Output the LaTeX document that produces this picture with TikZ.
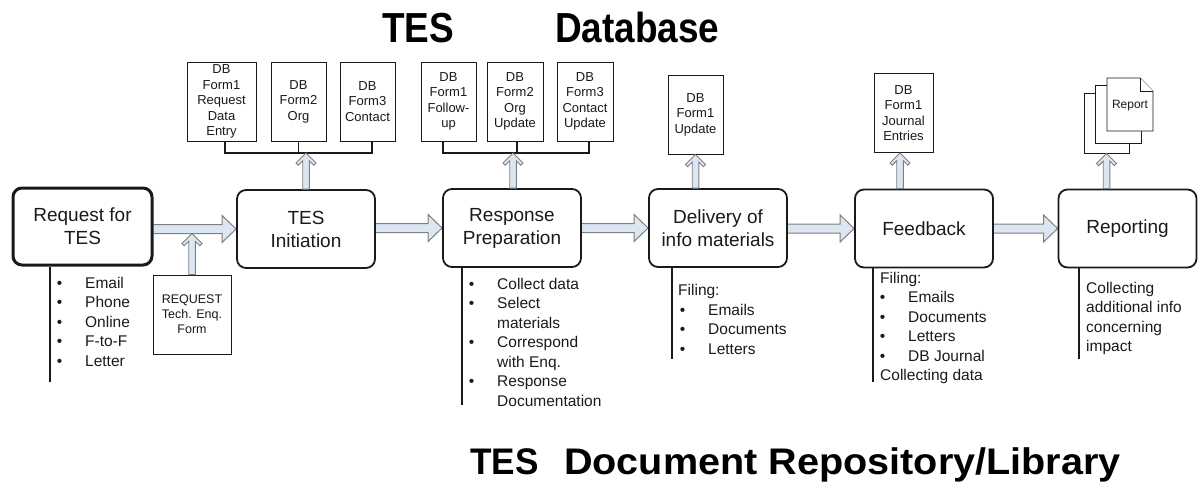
\documentclass[tikz,border=0pt]{standalone}
\usepackage{fontspec}
\usepackage{graphicx}
\setmainfont{Liberation Sans}
\usetikzlibrary{calc,backgrounds}
\definecolor{afill}{HTML}{DCE6F2}
\definecolor{aline}{HTML}{7F7F7F}
\definecolor{ink}{HTML}{1A1A1A}
\newcommand\bul{\makebox[0pt][r]{\textbullet\hspace{23pt}}}
\newcommand\rarr[2]{\draw[barrow] ($(#1.east|-#2.west)+(0,-4.5)$) -- ($(#2.west)+(-14,-4.5)$) -- ($(#2.west)+(-14,-13.5)$) -- (#2.west) -- ($(#2.west)+(-14,13.5)$) -- ($(#2.west)+(-14,4.5)$) -- ($(#1.east|-#2.west)+(0,4.5)$);}
\newcommand\uparr[2]{\draw[varrow] (#2) -- ($(#2)+(10,10)$) -- ($(#2)+(7.8,12.2)$) -- ($(#2)+(3.3,7.7)$) -- ($(#1)+(3.3,0)$) -- ($(#1)+(-3.3,0)$) -- ($(#2)+(-3.3,7.7)$) -- ($(#2)+(-7.8,12.2)$) -- ($(#2)+(-10,10)$) -- cycle;}
\tikzset{
 stage/.style={draw=ink, fill=white, line width=1.8pt, rounded corners=9pt, minimum width=138pt, minimum height=78pt, align=center, font=\fontsize{19}{23}\selectfont, text=ink, inner sep=0pt},
 form/.style={draw=ink, fill=white, line width=0.9pt, minimum height=79pt, align=center, font=\fontsize{13}{15.5}\selectfont, inner sep=0pt, text=ink},
 page/.style={draw=ink, fill=white, line width=0.9pt, inner sep=0pt},
 lst/.style={anchor=base west, inner sep=0pt, font=\fontsize{15.5}{19.5}\selectfont, text=ink},
 sideline/.style={draw=ink, line width=1.8pt},
 bracket/.style={draw=ink, line width=1.2pt},
 barrow/.style={draw=aline, line width=1pt, fill=afill, line join=miter},
 varrow/.style={draw=aline, line width=0.9pt, fill=afill, line join=miter},
 ttl/.style={anchor=base west, inner sep=0pt, text=black},
}
\begin{document}
\begin{tikzpicture}[x=1pt,y=-1pt]
\useasboundingbox (0,0) rectangle (1198,484);
% titles
\node[ttl] (tA) at (382,43) {\scalebox{0.88}[1]{\fontsize{42}{42}\selectfont\bfseries TES}};
\node[ttl] (tB) at (555,43) {\scalebox{0.88}[1]{\fontsize{42}{42}\selectfont\bfseries Database}};
\node[ttl] (tC) at (470,474) {\scalebox{0.95}[1]{\fontsize{37}{37}\selectfont\bfseries TES}};
\node[ttl] (tD) at (564,474) {\scalebox{1.07}[1]{\fontsize{37}{37}\selectfont\bfseries Document Repository/Library}};
% stages
\node[stage, line width=3pt, minimum width=139pt, minimum height=77pt] (r1) at (82.5,226.5) {Request for\\TES};
\node[stage] (r2) at (306,229) {TES\\Initiation};
\node[stage] (r3) at (512,228) {Response\\Preparation};
\node[stage] (r4) at (718,228) {Delivery of\\info materials};
\node[stage] (r5) at (924,228.5) {Feedback};
\node[stage] (r6) at (1127.5,228.5) {Reporting};
\begin{scope}[on background layer]
\rarr{r1}{r2}
\rarr{r2}{r3}
\rarr{r3}{r4}
\rarr{r4}{r5}
\rarr{r5}{r6}
\end{scope}
% forms
\node[form, minimum width=69pt] (f11) at (221.5,101.5) {DB\\Form1\\Request\\Data\\Entry};
\node[form, minimum width=55pt] (f12) at (298.5,101.5) {DB\\Form2\\Org};
\node[form, minimum width=55pt] (f13) at (367.5,101.5) {DB\\Form3\\Contact};
\node[form, minimum width=55pt] (f21) at (448.5,101.5) {DB\\Form1\\Follow-\\up};
\node[form, minimum width=56pt] (f22) at (515,101.5) {DB\\Form2\\Org\\Update};
\node[form, minimum width=56pt] (f23) at (585,101.5) {DB\\Form3\\Contact\\Update};
\node[form, minimum width=55pt] (d1) at (695.5,114.5) {DB\\Form1\\Update};
\node[form, minimum width=59pt] (j1) at (903.5,113) {DB\\Form1\\Journal\\Entries};
\node[form, minimum width=78pt, font=\fontsize{12.5}{15}\selectfont] (rq) at (192,314.5) {REQUEST\\Tech. Enq.\\Form};
% report stack
\node[page, minimum width=45pt, minimum height=60pt] (pb) at (1106.5,123) {};
\node[page, minimum width=46pt, minimum height=58pt] (pm) at (1118,114) {};
\draw[page] (1107,78) -- (1140,78) -- (1153,91) -- (1153,131) -- (1107,131) -- cycle;
\draw[page] (1140,78) -- (1140,91) -- (1153,91);
\node[inner sep=0pt, font=\fontsize{12}{14}\selectfont, text=ink] (pf) at (1130,106) {Report};
% brackets
\coordinate (b1) at (306,153);
\coordinate (b2) at (513,153);
\draw[bracket] ([xshift=3.5pt]f11.south) |- ([xshift=4.5pt]f13.south |- b1) -- ([xshift=4.5pt]f13.south);
\draw[bracket] (f12.south) -- (f12.south |- b1);
\draw[bracket] ([xshift=-5.5pt]f21.south) |- ([xshift=4pt]f23.south |- b2) -- ([xshift=4pt]f23.south);
\draw[bracket] ([xshift=2pt]f22.south) -- ([xshift=2pt]f22.south |- b2);
% vertical arrows
\coordinate (t2) at (r2.north |- b1);
\coordinate (t3) at (b2);
\coordinate (s3) at (b2 |- r3.north);
\coordinate (t4) at (d1.south);
\coordinate (s4) at (d1.south |- r4.north);
\coordinate (t5) at ([xshift=-3.5pt]j1.south);
\coordinate (s5) at (t5 |- r5.north);
\coordinate (t6) at (pb.south);
\coordinate (s6) at (pb.south |- r6.north);
\coordinate (t1) at ($(rq.north |- r2.west)+(0,4.5)$);
\uparr{r2.north}{t2}
\uparr{s3}{t3}
\uparr{s4}{t4}
\uparr{s5}{t5}
\uparr{s6}{t6}
\uparr{rq.north}{t1}
% side lines
\coordinate (e1) at (50,382);
\coordinate (e3) at (462,405);
\coordinate (e4) at (672,359);
\coordinate (e5) at (873,382);
\coordinate (e6) at (1079,359);
\draw[sideline] (r1.south -| e1) -- (e1);
\draw[sideline] (r3.south -| e3) -- (e3);
\draw[sideline] (r4.south -| e4) -- (e4);
\draw[sideline] (r5.south -| e5) -- (e5);
\draw[sideline] (r6.south -| e6) -- (e6);
% lists
\foreach \t [count=\i] in {Email,Phone,Online,F-to-F,Letter}
  \node[lst] (qa\i) at (85,{288+19.5*(\i-1)}) {\bul\t};
\foreach \b/\t [count=\i] in {1/Collect data,1/Select,0/materials,1/Correspond,0/with Enq.,1/Response,0/Documentation}
  \node[lst] (qb\i) at (497,{289+19.5*(\i-1)}) {\ifnum\b=1 \bul\fi\t};
\node[lst] (qc0) at (678,295.5) {Filing:};
\foreach \t [count=\i] in {Emails,Documents,Letters}
  \node[lst] (qc\i) at (708,{295.5+19.5*\i}) {\bul\t};
\node[lst] (qd0) at (880,283) {Filing:};
\foreach \t [count=\i] in {Emails,Documents,Letters,DB Journal}
  \node[lst] (qd\i) at (908,{283+19.5*\i}) {\bul\t};
\node[lst] (qd5) at (880,380.5) {Collecting data};
\foreach \t [count=\i] in {Collecting,additional info,concerning,impact}
  \node[lst] (qe\i) at (1086,{293+19.5*(\i-1)}) {\t};
\end{tikzpicture}
\end{document}
